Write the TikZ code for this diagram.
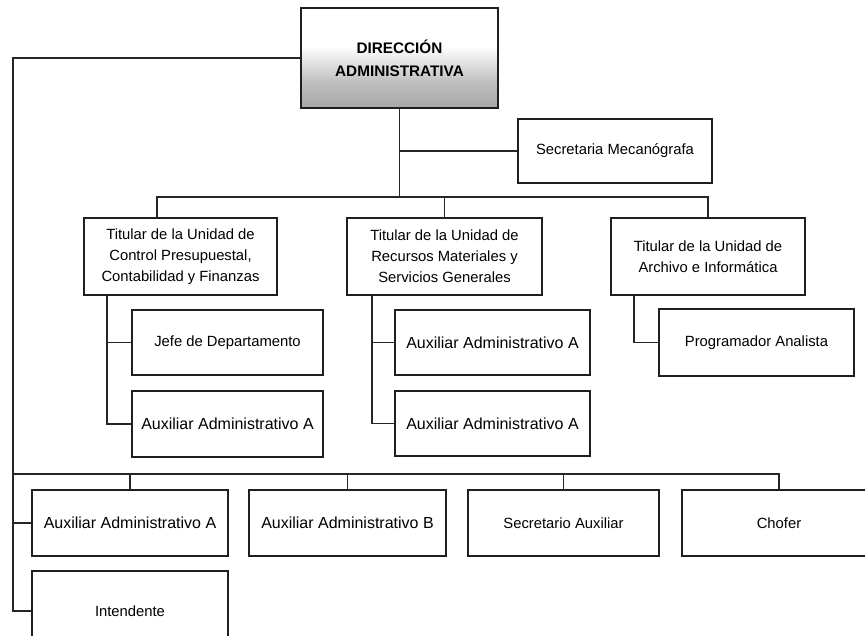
\documentclass[tikz,border=0pt]{standalone}
\usepackage{fontspec}
\setmainfont{Liberation Sans}
\usetikzlibrary{calc}
\pgfdeclareverticalshading{dirshade}{100bp}{
  color(0bp)=(black!58);
  color(15bp)=(black!42);
  color(38bp)=(black!25);
  color(50bp)=(black!8);
  color(56bp)=(white);
  color(100bp)=(white)}
\begin{document}
\begin{tikzpicture}[x=1pt,y=-1pt,
  unit/.style={draw=black!88,line width=2.3pt,fill=white,rectangle,
    inner sep=0pt,align=center,font=\fontsize{14.8}{21}\selectfont},
  auxtext/.style={font=\fontsize{16}{21}\selectfont},
  conn/.style={draw=black!85,line width=1.9pt}]
\useasboundingbox (0,0) rectangle (865,635);
\clip (0,0) rectangle (865,635);

% head of the administration
\node[unit,minimum width=197pt,minimum height=100pt,shading=dirshade,
  font=\bfseries\fontsize{15.3}{23}\selectfont] (dir) at (399.5,58)
  {DIRECCIÓN\\ADMINISTRATIVA};

\node[unit,minimum width=194pt,minimum height=64pt] (sec) at (615,151)
  {Secretaria Mecanógrafa};

% unit heads
\node[unit,minimum width=193pt,minimum height=77pt] (t1) at (180.5,256.5)
  {Titular de la Unidad de\\Control Presupuestal,\\Contabilidad y Finanzas};
\node[unit,minimum width=195pt,minimum height=77pt] (t2) at (444.5,256.5)
  {Titular de la Unidad de\\Recursos Materiales y\\Servicios Generales};
\node[unit,minimum width=194pt,minimum height=77pt] (t3) at (708,256.5)
  {Titular de la Unidad de\\Archivo e Informática};

% staff of each unit
\node[unit,minimum width=191pt,minimum height=65pt] (jefe) at (227.5,342.5)
  {Jefe de Departamento};
\node[unit,auxtext,minimum width=191pt,minimum height=66pt] (aux1) at (227.5,424)
  {Auxiliar Administrativo A};
\node[unit,auxtext,minimum width=195pt,minimum height=65pt] (aux2a) at (492.5,342.5)
  {Auxiliar Administrativo A};
\node[unit,auxtext,minimum width=195pt,minimum height=65pt] (aux2b) at (492.5,423.5)
  {Auxiliar Administrativo A};
\node[unit,minimum width=195pt,minimum height=67pt] (prog) at (756.5,342.5)
  {Programador Analista};

% general staff
\node[unit,auxtext,minimum width=196pt,minimum height=66pt] (b1) at (130,523)
  {Auxiliar Administrativo A};
\node[unit,auxtext,minimum width=197pt,minimum height=66pt] (b2) at (347.5,523)
  {Auxiliar Administrativo B};
\node[unit,minimum width=191pt,minimum height=66pt] (b3) at (563.5,523)
  {Secretario Auxiliar};
\node[unit,minimum width=194pt,minimum height=66pt] (b4) at (779,523)
  {Chofer};
\node[unit,minimum width=196pt,minimum height=80pt] (intend) at (130,611)
  {Intendente};

% connectors
\coordinate (bus1) at (0,197);
\coordinate (busB) at (0,474);
\coordinate (lft) at (13,58);
\coordinate (t1tap) at ($(t1.north)+(-23.5,0)$);
\coordinate (t1sp) at ($(t1.south west)+(24,0)$);
\coordinate (t2sp) at ($(t2.south west)+(26,0)$);
\coordinate (t3sp) at ($(t3.south west)+(24,0)$);

\draw[conn] (dir.south) -- (dir.south |- bus1);
\draw[conn] (dir.south |- sec.west) -- (sec.west);
\draw[conn] (t1tap) -- (t1tap |- bus1) -| (t3.north);
\draw[conn] (t2.north) -- (t2.north |- bus1);

\draw[conn] (t1sp) |- (aux1.west);
\draw[conn] (t1sp |- jefe.west) -- (jefe.west);
\draw[conn] (t2sp) |- (aux2b.west);
\draw[conn] (t2sp |- aux2a.west) -- (aux2a.west);
\draw[conn] (t3sp) |- (prog.west);

\draw[conn] (dir.west) -- (lft) |- (intend.west);
\draw[conn] (lft |- b1.west) -- (b1.west);
\draw[conn] (lft |- busB) -| (b4.north);
\draw[conn] (b1.north) -- (b1.north |- busB);
\draw[conn] (b2.north) -- (b2.north |- busB);
\draw[conn] (b3.north) -- (b3.north |- busB);
\end{tikzpicture}
\end{document}
